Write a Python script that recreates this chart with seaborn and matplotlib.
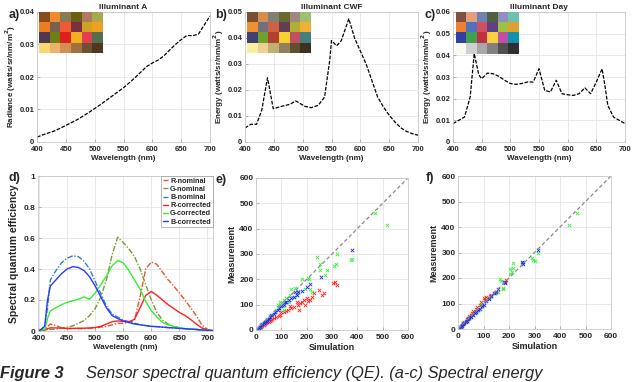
import matplotlib
matplotlib.use("Agg")
import matplotlib.pyplot as plt
import seaborn as sns
import numpy as np
import pandas as pd
from matplotlib.colors import to_rgb

# ---------------- data ----------------
wl_a = [400, 410, 420, 430, 440, 450, 460, 470, 480, 490, 500, 510, 520, 530, 540, 550,
        560, 570, 580, 590, 600, 610, 620, 630, 640, 650, 660, 670, 680, 690, 700]
illum_a = [0.0015, 0.0022, 0.0028, 0.0034, 0.0042, 0.0051, 0.0060, 0.0069, 0.0080, 0.0091,
           0.0103, 0.0115, 0.0128, 0.0141, 0.0154, 0.0167, 0.0182, 0.0198, 0.0215, 0.0232,
           0.0243, 0.0252, 0.0265, 0.0283, 0.0300, 0.0315, 0.0328, 0.0327, 0.0332, 0.0360, 0.0388]

wl_cwf = [400, 410, 420, 429, 439, 449, 463, 478, 488, 504, 515, 527, 538, 547, 550, 559,
          567, 580, 590, 602, 610, 620, 630, 640, 650, 660, 670, 680, 690, 700]
illum_cwf = [0.0054, 0.0068, 0.0068, 0.0122, 0.0247, 0.0128, 0.0137, 0.0145, 0.0158, 0.0137,
             0.0132, 0.0141, 0.0173, 0.0315, 0.0390, 0.0370, 0.0390, 0.0474, 0.0400, 0.0340,
             0.0300, 0.0237, 0.0173, 0.0135, 0.0103, 0.0077, 0.0055, 0.0041, 0.0032, 0.0026]

wl_day = [400, 410, 420, 430, 437, 445, 450, 460, 470, 480, 490, 500, 510, 520, 530, 540,
          550, 560, 570, 580, 590, 600, 610, 620, 630, 640, 650, 660, 665, 670, 680, 690, 700]
illum_day = [0.0085, 0.0100, 0.0115, 0.0208, 0.0408, 0.0310, 0.0292, 0.0318, 0.0315, 0.0303,
             0.0285, 0.0270, 0.0266, 0.0270, 0.0277, 0.0277, 0.0338, 0.0238, 0.0231, 0.0285,
             0.0223, 0.0218, 0.0215, 0.0223, 0.0250, 0.0223, 0.0277, 0.0338, 0.0260, 0.0169,
             0.0115, 0.0100, 0.0085]

checker_a = [["#8a4a1a", "#f08a30", "#8a7a50", "#6a6010", "#b07a60", "#a8a850"],
             ["#f07a20", "#7a6050", "#f05a30", "#7a3040", "#d0a020", "#f0a020"],
             ["#503850", "#708010", "#e02020", "#f0b020", "#e04050", "#507050"],
             ["#f8d870", "#f0b070", "#d09050", "#a07040", "#705030", "#503820"]]
checker_cwf = [["#7a5030", "#d09050", "#808070", "#6a6a30", "#a08880", "#a0c070"],
               ["#f09030", "#707080", "#d06040", "#604050", "#b0b030", "#f0b030"],
               ["#404070", "#70a030", "#b04030", "#f8d030", "#c05060", "#408080"],
               ["#f8f0a0", "#f0d090", "#c0b070", "#908060", "#605030", "#403020"]]
checker_day = [["#805040", "#e0a080", "#7080b0", "#506040", "#9090c0", "#70c0b0"],
               ["#f08030", "#5070c0", "#d05060", "#604080", "#a0c040", "#e0a030"],
               ["#3040a0", "#40a050", "#c03040", "#f8d040", "#c050a0", "#1090b0"],
               ["#f8f8f0", "#d0d0d0", "#a8a8a8", "#808080", "#505050", "#303030"]]

qe_wl = [400, 410, 415, 420, 430, 440, 450, 460, 470, 480, 490, 500, 510, 520, 530, 540, 550,
         560, 570, 580, 590, 600, 610, 620, 630, 640, 650, 660, 670, 680, 690, 700, 710]
r_nominal = [0, 0.01, 0.03, 0.045, 0.035, 0.02, 0.015, 0.015, 0.015, 0.015, 0.017, 0.02, 0.025,
             0.03, 0.04, 0.05, 0.05, 0.055, 0.07, 0.22, 0.40, 0.445, 0.43, 0.38, 0.33, 0.29,
             0.245, 0.20, 0.15, 0.10, 0.04, 0.01, 0.003]
g_nominal = [0, 0.005, 0.01, 0.01, 0.012, 0.02, 0.025, 0.033, 0.05, 0.067, 0.10, 0.145, 0.22,
             0.33, 0.49, 0.605, 0.57, 0.53, 0.48, 0.40, 0.30, 0.20, 0.12, 0.07, 0.045, 0.03,
             0.02, 0.015, 0.012, 0.01, 0.007, 0.005, 0.002]
b_nominal = [0, 0.03, 0.15, 0.33, 0.39, 0.44, 0.47, 0.485, 0.48, 0.45, 0.40, 0.32, 0.24, 0.16,
             0.11, 0.09, 0.07, 0.06, 0.05, 0.04, 0.035, 0.03, 0.028, 0.025, 0.022, 0.02, 0.017,
             0.015, 0.012, 0.01, 0.007, 0.005, 0.002]
r_corrected = [0, 0.005, 0.015, 0.02, 0.02, 0.018, 0.017, 0.017, 0.018, 0.018, 0.02, 0.022,
               0.03, 0.045, 0.06, 0.065, 0.062, 0.06, 0.075, 0.15, 0.23, 0.255, 0.23, 0.20,
               0.17, 0.145, 0.12, 0.10, 0.075, 0.045, 0.02, 0.008, 0.002]
g_corrected = [0, 0.01, 0.08, 0.13, 0.15, 0.17, 0.185, 0.195, 0.205, 0.22, 0.205, 0.245, 0.30,
               0.355, 0.42, 0.455, 0.44, 0.39, 0.33, 0.27, 0.19, 0.13, 0.09, 0.055, 0.04, 0.03,
               0.02, 0.015, 0.012, 0.01, 0.007, 0.005, 0.002]
b_corrected = [0, 0.03, 0.20, 0.29, 0.33, 0.37, 0.40, 0.415, 0.41, 0.39, 0.35, 0.29, 0.22, 0.15,
               0.10, 0.08, 0.065, 0.055, 0.045, 0.04, 0.035, 0.03, 0.028, 0.025, 0.022, 0.02,
               0.017, 0.015, 0.012, 0.01, 0.007, 0.005, 0.002]

# panel e (simulation, measurement)
e_green_sim = [471, 517, 379, 376, 320, 316, 307, 280, 271, 251, 241, 251, 210, 182, 192, 212,
               165, 160, 140, 135, 120, 110, 100, 105, 90, 80, 75, 65, 55, 50, 45, 35, 30, 25,
               20, 15, 10, 8, 220, 150, 110, 95, 130, 85, 205, 155]
e_green_meas = [462, 415, 281, 275, 301, 262, 251, 237, 218, 260, 288, 235, 200, 200, 161, 160,
                155, 140, 160, 140, 125, 120, 105, 95, 85, 80, 70, 60, 55, 45, 42, 32, 28, 22,
                18, 12, 8, 5, 150, 130, 80, 110, 110, 100, 204, 165]
e_blue_sim = [379, 258, 212, 200, 180, 165, 160, 150, 140, 130, 120, 110, 100, 90, 85, 75, 70,
              60, 55, 50, 45, 40, 35, 30, 25, 20, 15, 10, 5, 155, 115]
e_blue_meas = [314, 211, 181, 170, 155, 150, 140, 130, 128, 118, 112, 100, 95, 88, 80, 70, 65,
               58, 50, 45, 40, 36, 30, 27, 22, 18, 13, 9, 4, 150, 110]
e_red_sim = [310, 320, 305, 247, 267, 260, 220, 215, 205, 200, 190, 180, 175, 165, 160, 150,
             140, 135, 125, 120, 110, 100, 95, 90, 80, 70, 65, 60, 55, 50, 45, 40, 35, 30, 25,
             20, 15, 230, 195, 170]
e_red_meas = [190, 178, 185, 158, 145, 140, 130, 120, 115, 125, 120, 110, 105, 100, 110, 90,
              85, 95, 80, 75, 72, 70, 60, 55, 52, 48, 42, 40, 35, 32, 30, 26, 22, 20, 16, 13,
              10, 145, 100, 80]

# panel f (simulation, measurement)
f_green_sim = [465, 436, 315, 290, 295, 300, 255, 250, 214, 215, 205, 210, 205, 165, 168, 175,
               175, 155, 145, 130, 120, 100, 95, 90, 80, 75, 65, 60, 50, 45, 40, 35, 25, 20, 12, 8]
f_green_meas = [456, 408, 300, 280, 272, 268, 262, 258, 258, 240, 235, 225, 215, 198, 190, 160,
                155, 145, 140, 130, 120, 105, 95, 85, 78, 70, 62, 55, 48, 42, 38, 30, 22, 18, 10, 6]
f_blue_sim = [315, 255, 252, 185, 180, 155, 150, 140, 130, 120, 110, 100, 95, 85, 80, 70, 65,
              60, 50, 45, 40, 35, 30, 25, 20, 15, 10, 5]
f_blue_meas = [310, 255, 262, 180, 185, 155, 145, 140, 128, 118, 108, 95, 92, 80, 75, 68, 62,
               55, 48, 42, 38, 32, 28, 22, 18, 12, 8, 4]
f_red_sim = [190, 185, 150, 145, 130, 125, 110, 100, 105, 120, 90, 85, 75, 70, 60, 55, 50, 45,
             40, 35, 30, 25, 20, 15, 10]
f_red_meas = [193, 185, 145, 140, 135, 130, 125, 120, 112, 120, 105, 95, 88, 80, 70, 62, 55, 50,
              45, 38, 33, 28, 22, 15, 10]

wl_ticks = [400, 450, 500, 550, 600, 650, 700]

# ---------------- style ----------------
sns.set_theme(style="whitegrid")
plt.rcParams["font.family"] = ["Liberation Sans", "DejaVu Sans"]
plt.rcParams["font.weight"] = "bold"
plt.rcParams["axes.labelweight"] = "bold"

W, H = 640, 382
fig = plt.figure(figsize=(6.4, 3.82), dpi=100, facecolor="white")


def px_axes(x0, y0, x1, y1):
    return fig.add_axes([x0 / W, 1 - y1 / H, (x1 - x0) / W, (y1 - y0) / H])


def style(ax, fs):
    ax.grid(True, color="#e4e4e4", lw=0.6)
    for s in ax.spines.values():
        s.set_visible(True)
        s.set_color("#c8c8c8")
        s.set_linewidth(0.6)
    ax.tick_params(labelsize=fs, length=2, width=0.5, direction="in", color="#999999",
                   bottom=True, left=True)
    ax.tick_params(axis="x", pad=3.2)
    ax.tick_params(axis="y", pad=1.8)
    for lab in ax.get_xticklabels() + ax.get_yticklabels():
        lab.set_fontweight("bold")


def checker(x0, y0, x1, y1, cols):
    iax = px_axes(x0, y0, x1, y1)
    img = np.array([[to_rgb(c) for c in row] for row in cols])
    iax.imshow(img, aspect="auto", interpolation="nearest")
    iax.set_axis_off()


lbl_fs = 5.8
tick_fs = 5.5
dash = (0, (3, 1.2))

# ---- top row ----
tops = [
    ((37, 12, 210, 142), wl_a, illum_a, "Illuminant A", "Radiance (watts/sr/nm/m$^2$)",
     0.04, [0, 0.01, 0.02, 0.03, 0.04], ["0", "0.01", "0.02", "0.03", "0.04"],
     (39, 12, 103, 53), checker_a),
    ((245, 12, 418, 142), wl_cwf, illum_cwf, "Illuminant CWF", "Energy (watts/sr/nm/m$^2$)",
     0.05, [0, 0.01, 0.02, 0.03, 0.04, 0.05], ["0", "0.01", "0.02", "0.03", "0.04", "0.05"],
     (247, 12, 311, 53), checker_cwf),
    ((453, 12, 625, 142), wl_day, illum_day, "Illuminant Day", "Energy (watts/sr/nm/m$^2$)",
     0.06, [0, 0.01, 0.02, 0.03, 0.04, 0.05, 0.06],
     ["0", "0.01", "0.02", "0.03", "0.04", "0.05", "0.06"],
     (456, 12, 519, 54), checker_day),
]
for box, xs, ys, title, ylab, ymax, yt, ytl, cbox, ccols in tops:
    ax = px_axes(*box)
    df = pd.DataFrame({"wl": xs, "v": ys})
    sns.lineplot(data=df, x="wl", y="v", ax=ax, color="black", lw=0.9, linestyle=dash,
                 estimator=None, sort=False)
    ax.set_xlim(400, 700)
    ax.set_ylim(0, ymax)
    ax.set_xticks(wl_ticks)
    ax.set_xticklabels([str(t) for t in wl_ticks])
    ax.set_yticks(yt)
    ax.set_yticklabels(ytl)
    ax.set_title(title, fontsize=6, fontweight="bold", pad=2)
    ax.set_xlabel("Wavelength (nm)", fontsize=lbl_fs, labelpad=1)
    ax.set_ylabel(ylab, fontsize=lbl_fs, labelpad=1)
    style(ax, tick_fs)
    checker(*cbox, ccols)

# ---- panel d ----
axd = px_axes(38, 176, 213, 331)
series = [
    (r_nominal, "R-nominal", "#e8552a", (0, (4, 1.2, 1, 1.2))),
    (g_nominal, "G-nominal", "#7a9b35", (0, (4, 1.2, 1, 1.2))),
    (b_nominal, "B-nominal", "#2f80c4", (0, (4, 1.2, 1, 1.2))),
    (r_corrected, "R-corrected", "#ff2020", "-"),
    (g_corrected, "G-corrected", "#33ee33", "-"),
    (b_corrected, "B-corrected", "#2b3cf5", "-"),
]
for vals, name, col, ls in series:
    df = pd.DataFrame({"wl": qe_wl, "q": vals})
    sns.lineplot(data=df, x="wl", y="q", ax=axd, color=col, lw=1.0, linestyle=ls,
                 label=name, estimator=None, sort=False)
axd.set_xlim(398, 710)
axd.set_ylim(0, 1)
axd.set_xticks(wl_ticks)
axd.set_xticklabels([str(t) for t in wl_ticks])
axd.set_yticks([0, 0.2, 0.4, 0.6, 0.8, 1])
axd.set_yticklabels(["0", "0.2", "0.4", "0.6", "0.8", "1"])
axd.set_xlabel("Wavelength (nm)", fontsize=5.8, labelpad=1)
axd.set_ylabel("Spectral quantum efficiency", fontsize=7.5, labelpad=3)
style(axd, 6)
leg = axd.legend(loc="upper right", fontsize=5.2, handlelength=0.7, handletextpad=0.3,
                 borderpad=0.25, labelspacing=0.15, frameon=True, fancybox=False,
                 borderaxespad=0.0)
leg.get_frame().set_edgecolor("#888888")
leg.get_frame().set_linewidth(0.5)
for t in leg.get_texts():
    t.set_fontweight("bold")

# ---- panels e, f ----
scat = [
    ((256, 178, 408, 330), [(e_red_sim, e_red_meas, "#ff2020"), (e_green_sim, e_green_meas, "#33ee33"),
                            (e_blue_sim, e_blue_meas, "#2020ff")]),
    ((458, 176, 611, 329), [(f_red_sim, f_red_meas, "#ff2020"), (f_green_sim, f_green_meas, "#33ee33"),
                            (f_blue_sim, f_blue_meas, "#2020ff")]),
]
for box, groups in scat:
    ax = px_axes(*box)
    diag = pd.DataFrame({"s": [0, 600], "m": [0, 600]})
    sns.lineplot(data=diag, x="s", y="m", ax=ax, color="#888888", lw=0.9,
                 linestyle=(0, (3, 2)), estimator=None)
    for sx, my, col in groups:
        df = pd.DataFrame({"s": sx, "m": my})
        sns.scatterplot(data=df, x="s", y="m", ax=ax, color=col, marker="x", s=6,
                        linewidth=0.6)
    ax.set_xlim(0, 600)
    ax.set_ylim(0, 600)
    t = [0, 100, 200, 300, 400, 500, 600]
    ax.set_xticks(t)
    ax.set_yticks(t)
    ax.set_xticklabels([str(v) for v in t])
    ax.set_yticklabels([str(v) for v in t])
    ax.set_xlabel("Simulation", fontsize=6.5, labelpad=1)
    ax.set_ylabel("Measurement", fontsize=6.5, labelpad=2)
    style(ax, 6)

# ---- panel letters ----
for txt, x, y in [("a)", 14, 15), ("b)", 221, 15), ("c)", 430, 15),
                  ("d)", 14, 178), ("e)", 221, 180), ("f)", 430, 178)]:
    fig.text(x / W, 1 - y / H, txt, fontsize=9, fontweight="bold", ha="center", va="center")

# ---- caption ----
fig.text(0.5 / W, 4 / H, "Figure 3", fontsize=11.8, fontweight="bold", fontstyle="italic",
         va="baseline", ha="left")
fig.text(86 / W, 4 / H, "Sensor spectral quantum efficiency (QE). (a-c) Spectral energy",
         fontsize=11.8, fontweight="normal", fontstyle="italic", va="baseline", ha="left")

fig.savefig("out.png", dpi=100, facecolor="white")
